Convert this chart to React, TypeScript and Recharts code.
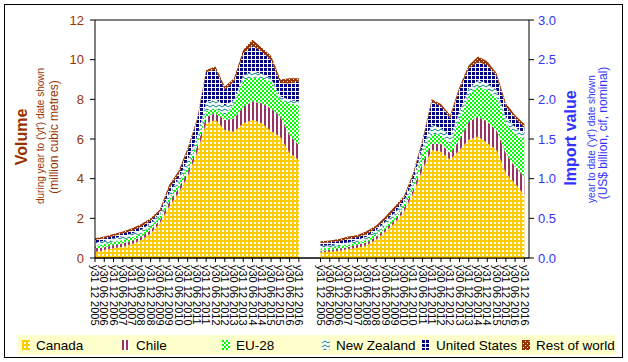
import React from "react";
import { AreaChart, Area, XAxis, YAxis, ReferenceLine } from "recharts";

const TICK_LABELS = [
  "y31 12 2005", "y30 06 2006", "y31 12 2006", "y30 06 2007", "y31 12 2007",
  "y30 06 2008", "y31 12 2008", "y30 06 2009", "y31 12 2009", "y30 06 2010",
  "y31 12 2010", "y30 06 2011", "y31 12 2011", "y30 06 2012", "y31 12 2012",
  "y30 06 2013", "y31 12 2013", "y30 06 2014", "y31 12 2014", "y30 06 2015",
  "y31 12 2015", "y30 06 2016", "y31 12 2016",
];

// volume, million m3 (left panel)
const VOL_CANADA = [0.3, 0.4, 0.49, 0.57, 0.71, 0.91, 1.24, 1.75, 2.59, 3.26, 4.1, 5.3, 6.8, 6.96, 6.45, 6.37, 6.8, 6.96, 6.8, 6.4, 6.1, 5.3, 4.94];
const VOL_CHILE = [0.19, 0.14, 0.17, 0.17, 0.16, 0.17, 0.17, 0.17, 0.25, 0.24, 0.25, 0.3, 0.33, 0.34, 0.51, 0.67, 0.83, 0.94, 1.0, 1.15, 1.03, 0.9, 0.76];
const VOL_EU = [0.11, 0.17, 0.16, 0.17, 0.17, 0.16, 0.17, 0.16, 0.17, 0.26, 0.25, 0.2, 0.3, 0.25, 0.24, 0.76, 1.35, 1.2, 1.26, 1.35, 0.84, 1.6, 2.0];
const VOL_NZ = [0.17, 0.16, 0.17, 0.2, 0.2, 0.2, 0.17, 0.17, 0.25, 0.24, 0.34, 0.3, 0.45, 0.45, 0.5, 0.17, 0.25, 0.3, 0.24, 0.16, 0.18, 0.17, 0.2];
const VOL_US = [0.14, 0.12, 0.12, 0.13, 0.14, 0.14, 0.13, 0.09, 0.25, 0.2, 0.46, 0.8, 1.5, 1.5, 0.8, 0.93, 1.07, 1.3, 1.1, 0.92, 0.67, 0.83, 1.0];
const VOL_ROW = [0.09, 0.09, 0.1, 0.09, 0.12, 0.13, 0.12, 0.11, 0.17, 0.17, 0.15, 0.1, 0.1, 0.15, 0.15, 0.16, 0.2, 0.3, 0.2, 0.22, 0.18, 0.26, 0.16];

// import value, US$ billion (right panel)
const VAL_CANADA = [0.07, 0.08, 0.09, 0.11, 0.13, 0.16, 0.23, 0.33, 0.44, 0.58, 0.81, 1.11, 1.36, 1.34, 1.24, 1.36, 1.49, 1.53, 1.45, 1.36, 1.07, 0.94, 0.79];
const VAL_CHILE = [0.02, 0.02, 0.03, 0.03, 0.04, 0.04, 0.04, 0.04, 0.04, 0.05, 0.05, 0.09, 0.08, 0.1, 0.08, 0.13, 0.23, 0.25, 0.27, 0.25, 0.25, 0.21, 0.23];
const VAL_EU = [0.03, 0.03, 0.03, 0.03, 0.03, 0.03, 0.04, 0.04, 0.04, 0.04, 0.06, 0.12, 0.13, 0.11, 0.12, 0.27, 0.33, 0.38, 0.4, 0.42, 0.38, 0.42, 0.47];
const VAL_NZ = [0.035, 0.03, 0.03, 0.03, 0.03, 0.04, 0.04, 0.05, 0.05, 0.04, 0.06, 0.08, 0.11, 0.09, 0.09, 0.09, 0.09, 0.08, 0.08, 0.09, 0.08, 0.08, 0.08];
const VAL_US = [0.03, 0.04, 0.03, 0.04, 0.03, 0.03, 0.03, 0.02, 0.04, 0.04, 0.06, 0.06, 0.29, 0.27, 0.23, 0.27, 0.25, 0.23, 0.23, 0.17, 0.13, 0.11, 0.07];
const VAL_ROW = [0.025, 0.02, 0.03, 0.03, 0.03, 0.04, 0.03, 0.04, 0.04, 0.03, 0.03, 0.03, 0.03, 0.03, 0.04, 0.04, 0.04, 0.07, 0.05, 0.04, 0.04, 0.04, 0.05];

const VOL_TICKS = [0, 2, 4, 6, 8, 10, 12];
const VAL_TICKS = [0, 0.5, 1, 1.5, 2, 2.5, 3];

// x is in months; the value panel starts after a gap
const STEP = 6;
const RIGHT_OFFSET = 146;
const X_MAX = 281;

const SERIES = [
  { key: "canada", name: "Canada" },
  { key: "chile", name: "Chile" },
  { key: "eu", name: "EU-28" },
  { key: "nz", name: "New Zealand" },
  { key: "us", name: "United States" },
  { key: "row", name: "Rest of world" },
];

const volumeData = TICK_LABELS.map((_, i) => ({
  x: i * STEP,
  canada: VOL_CANADA[i], chile: VOL_CHILE[i], eu: VOL_EU[i],
  nz: VOL_NZ[i], us: VOL_US[i], row: VOL_ROW[i],
}));

const valueData = TICK_LABELS.map((_, i) => ({
  x: RIGHT_OFFSET + i * STEP,
  canada: VAL_CANADA[i], chile: VAL_CHILE[i], eu: VAL_EU[i],
  nz: VAL_NZ[i], us: VAL_US[i], row: VAL_ROW[i],
}));

const BROWN = "#993300";
const BLUE = "#3333FF";
const FONT = "'Liberation Sans', Arial, sans-serif";

function Patterns() {
  return (
    <svg width={0} height={0} style={{ position: "absolute" }}>
      <defs>
        <pattern id="p-canada" width="4" height="4" patternUnits="userSpaceOnUse">
          <rect width="4" height="4" fill="#FFCC00" />
          <rect x="2" y="2" width="2" height="2" fill="#fff" />
        </pattern>
        <pattern id="p-chile" width="4" height="4" patternUnits="userSpaceOnUse">
          <rect width="4" height="4" fill="#fff" />
          <rect width="2" height="4" fill="#993366" />
        </pattern>
        <pattern id="p-eu" width="4" height="4" patternUnits="userSpaceOnUse">
          <rect width="4" height="4" fill="#fff" />
          <rect width="2" height="2" fill="#00FF00" />
          <rect x="2" y="2" width="2" height="2" fill="#00FF00" />
        </pattern>
        <pattern id="p-nz" width="6" height="4" patternUnits="userSpaceOnUse">
          <rect width="6" height="4" fill="#fff" />
          <path d="M0 3 L3 1 L6 3" stroke="#008080" strokeWidth="1" fill="none" />
        </pattern>
        <pattern id="p-us" width="4" height="4" patternUnits="userSpaceOnUse">
          <rect width="4" height="4" fill="#000080" />
          <rect x="3" width="1" height="4" fill="#fff" />
          <rect y="3" width="4" height="1" fill="#fff" />
        </pattern>
        <pattern id="p-row" width="4" height="4" patternUnits="userSpaceOnUse">
          <rect width="4" height="4" fill={BROWN} />
          <rect x="3" y="1" width="1" height="1" fill="#fff" />
          <rect x="1" y="3" width="1" height="1" fill="#fff" />
        </pattern>
      </defs>
    </svg>
  );
}

function XTick({ x, y, payload }: any) {
  const v = payload.value;
  const idx = Math.round((v >= RIGHT_OFFSET ? v - RIGHT_OFFSET : v) / STEP);
  return (
    <text x={x} y={y + 1} transform={`rotate(90 ${x} ${y + 1})`} dy="0.35em"
      textAnchor="start" fontSize={11} fill="#000">
      {TICK_LABELS[idx]}
    </text>
  );
}

function areas(stackId: string, axisId: string) {
  return SERIES.map((s) => (
    <Area key={s.key} type="linear" dataKey={s.key} name={s.name} stackId={stackId}
      yAxisId={axisId} fill={`url(#p-${s.key})`} fillOpacity={1} stroke="none"
      dot={false} activeDot={false} isAnimationActive={false} />
  ));
}

function VTitle({ x, y, text, size, bold, color }: any) {
  return (
    <text x={x} y={y} transform={`rotate(-90 ${x} ${y})`} textAnchor="middle"
      dominantBaseline="central" fontSize={size} fontWeight={bold ? "bold" : "normal"} fill={color}>
      {text}
    </text>
  );
}

export default function App() {
  const abs: React.CSSProperties = { position: "absolute", left: 0, top: 0 };
  return (
    <div style={{ position: "absolute", left: 0, top: 0, width: 628, height: 362, background: "#fff", fontFamily: FONT }}>
      <Patterns />
      <div style={{ position: "absolute", left: 4, top: 4, width: 619, height: 354, border: "1px solid #000", boxSizing: "border-box" }} />
      <div style={abs}>
        <AreaChart width={628} height={362} data={volumeData} margin={{ top: 20, right: 99, bottom: 0, left: 0 }}>
          <XAxis dataKey="x" type="number" domain={[0, X_MAX]} ticks={volumeData.map((d) => d.x)}
            interval={0} height={104} tickSize={4} tick={<XTick />}
            axisLine={{ stroke: "#000" }} tickLine={{ stroke: "#000" }} />
          <YAxis yAxisId="v" width={95} domain={[0, 12]} ticks={VOL_TICKS} tickSize={5} tickMargin={6}
            tick={{ fill: BROWN, fontSize: 13 }} axisLine={{ stroke: "#000" }} tickLine={{ stroke: "#000" }} />
          <ReferenceLine yAxisId="v" y={12} stroke="#000" />
          {areas("vol", "v")}
        </AreaChart>
      </div>
      <div style={abs}>
        <AreaChart width={628} height={362} data={valueData} margin={{ top: 20, right: 0, bottom: 0, left: 95 }}>
          <XAxis dataKey="x" type="number" domain={[0, X_MAX]} ticks={valueData.map((d) => d.x)}
            interval={0} height={104} tickSize={4} tick={<XTick />}
            axisLine={{ stroke: "#000" }} tickLine={{ stroke: "#000" }} />
          <YAxis yAxisId="m" orientation="right" width={99} domain={[0, 3]} ticks={VAL_TICKS}
            tickSize={5} tickMargin={4} tickFormatter={(v: number) => v.toFixed(1)}
            tick={{ fill: BLUE, fontSize: 13 }} axisLine={{ stroke: "#000" }} tickLine={{ stroke: "#000" }} />
          {areas("val", "m")}
        </AreaChart>
      </div>
      <svg width={628} height={362} style={{ ...abs, pointerEvents: "none" }}>
        <VTitle x={21} y={137} text="Volume" size={16} bold color={BROWN} />
        <VTitle x={40} y={136} text="during year to ('yt') date shown" size={10} color={BROWN} />
        <VTitle x={54} y={137} text="(million cubic metres)" size={12} color={BROWN} />
        <VTitle x={570} y={138} text="Import value" size={16} bold color={BLUE} />
        <VTitle x={591} y={139} text="year to date ('yt') date shown" size={10} color={BLUE} />
        <VTitle x={603} y={133} text="(US$ billion, cif, nominal)" size={12} color={BLUE} />
      </svg>
      <div style={{ position: "absolute", left: 18, top: 335, width: 597, height: 20, background: "#FFFFCC" }}>
        {SERIES.map((s, i) => (
          <div key={s.key} style={{ position: "absolute", left: 4 + i * 100, top: 0, height: 20, display: "flex", alignItems: "center", fontSize: 13.5, color: "#000", whiteSpace: "nowrap" }}>
            <svg width={8} height={10} style={{ marginRight: 6 }}>
              <rect width={8} height={10} fill={`url(#p-${s.key})`} />
            </svg>
            {s.name}
          </div>
        ))}
      </div>
    </div>
  );
}
